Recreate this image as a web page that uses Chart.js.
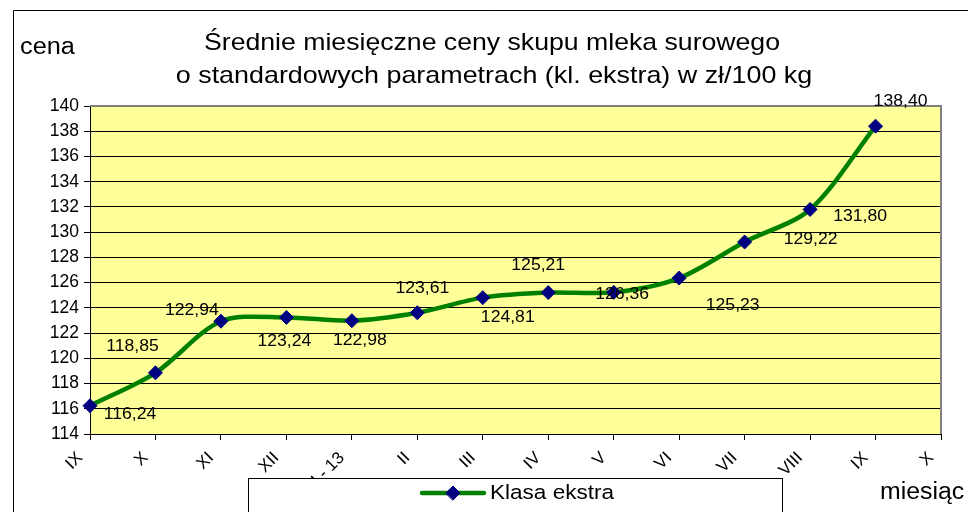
<!DOCTYPE html>
<html><head><meta charset="utf-8">
<script src="https://cdn.jsdelivr.net/npm/chart.js@4/dist/chart.umd.min.js"></script>
<style>html,body{margin:0;padding:0;background:#fff;}canvas{display:block;}</style>
</head><body>
<canvas id="c" width="968" height="512"></canvas>
<script>
const titleLines = ['Średnie miesięczne ceny skupu mleka surowego', 'o standardowych parametrach (kl. ekstra) w zł/100 kg'];
const categories = ['IX','X','XI','XII','I - 13','II','III','IV','V','VI','VII','VIII','IX','X'];
const prices = [116.24, 118.85, 122.94, 123.24, 122.98, 123.61, 124.81, 125.21, 125.23, 126.36, 129.22, 131.80, 138.40, null];
const seriesName = 'Klasa ekstra';
const yAxisTitle = 'cena';
const xAxisTitle = 'miesiąc';
const yMin = 114, yMax = 140, yStep = 2;
// label placement offsets (px) relative to each point
const labelOffsets = [[40,9],[-23,-26],[-29,-11],[-2,24],[8,20],[5,-24],[25,20],[-10,-27],[119,13],[-57,17],[66,-2],[50,7],[25,-25]];

const FONT = '"Liberation Sans", Arial, sans-serif';
const GREEN = '#008000', NAVY = '#000080', YELLOW = '#FFFF99';

function drawText(ctx, text, x, y, size, align, sx) {
  ctx.save();
  ctx.font = size + 'px ' + FONT;
  ctx.fillStyle = '#000';
  ctx.textBaseline = 'middle';
  ctx.textAlign = align;
  ctx.translate(x, y);
  ctx.scale(sx, 1);
  ctx.fillText(text, 0, 0);
  ctx.restore();
}
function diamond(ctx, x, y, r) {
  ctx.beginPath();
  ctx.moveTo(x - r, y); ctx.lineTo(x, y - r); ctx.lineTo(x + r, y); ctx.lineTo(x, y + r);
  ctx.closePath();
  ctx.fillStyle = NAVY; ctx.fill();
  ctx.strokeStyle = NAVY; ctx.lineWidth = 1; ctx.stroke();
}

const decor = {
  id: 'decor',
  beforeDraw(chart) {
    const {ctx, chartArea: a} = chart;
    ctx.save();
    ctx.fillStyle = '#fff';
    ctx.fillRect(0, 0, chart.width, chart.height);
    ctx.strokeStyle = '#000'; ctx.lineWidth = 1;
    ctx.beginPath();
    ctx.moveTo(968, 10.5); ctx.lineTo(13.5, 10.5); ctx.lineTo(13.5, 512);
    ctx.stroke();
    ctx.fillStyle = YELLOW;
    ctx.fillRect(a.left, a.top, a.right - a.left, a.bottom - a.top);
    ctx.restore();
  },
  beforeDatasetsDraw(chart) {
    const {ctx, chartArea: a} = chart;
    ctx.save();
    ctx.strokeStyle = '#808080'; ctx.lineWidth = 2;
    ctx.beginPath();
    ctx.moveTo(a.left, a.top); ctx.lineTo(a.right, a.top); ctx.lineTo(a.right, a.bottom);
    ctx.stroke();
    ctx.restore();
  },
  afterDraw(chart) {
    const ctx = chart.ctx;
    drawText(ctx, titleLines[0], 492, 43, 24, 'center', 1.11);
    drawText(ctx, titleLines[1], 494, 76, 24, 'center', 1.12);
    drawText(ctx, yAxisTitle, 20, 48, 23, 'left', 1.1);
    drawText(ctx, xAxisTitle, 880, 493, 23, 'left', 1.08);
    const meta = chart.getDatasetMeta(0);
    meta.data.forEach((pt, i) => {
      const v = prices[i];
      if (v == null || !labelOffsets[i]) return;
      drawText(ctx, v.toFixed(2).replace('.', ','), pt.x + labelOffsets[i][0], pt.y + labelOffsets[i][1], 16, 'center', 1.1);
    });
    ctx.save();
    ctx.fillStyle = '#fff';
    ctx.fillRect(248, 478, 534, 34);
    ctx.strokeStyle = '#000'; ctx.lineWidth = 1;
    ctx.strokeRect(248.5, 478.5, 534, 34);
    ctx.strokeStyle = GREEN; ctx.lineWidth = 4.5; ctx.lineCap = 'round';
    ctx.beginPath(); ctx.moveTo(422, 493); ctx.lineTo(484, 493); ctx.stroke();
    diamond(ctx, 453, 493, 7);
    ctx.restore();
    drawText(ctx, seriesName, 490, 493, 20.5, 'left', 1.1);
  }
};

new Chart(document.getElementById('c'), {
  type: 'line',
  data: {
    labels: categories,
    datasets: [{
      label: seriesName,
      data: prices,
      borderColor: GREEN,
      borderWidth: 4.5,
      tension: 0.3,
      pointStyle: 'rectRot',
      pointRadius: 7,
      pointBackgroundColor: NAVY,
      pointBorderColor: NAVY,
      pointBorderWidth: 1,
      clip: false
    }]
  },
  options: {
    responsive: false,
    devicePixelRatio: 1,
    animation: false,
    layout: { padding: { top: 106, right: 27, left: 0, bottom: 0 } },
    plugins: { legend: { display: false }, title: { display: false }, tooltip: { enabled: false } },
    scales: {
      x: {
        ticks: { autoSkip: false, minRotation: 45, maxRotation: 45, color: '#000', font: { family: FONT, size: 17 }, labelOffset: -10, padding: 8 },
        grid: { drawOnChartArea: false, drawTicks: true, tickLength: 6, color: '#000' },
        border: { color: '#000', width: 1 },
        afterFit(s) { s.height = 78; }
      },
      y: {
        min: yMin, max: yMax,
        ticks: { stepSize: yStep, color: '#000', font: { family: FONT, size: 17.5 }, padding: 5 },
        grid: { color: c => (c.tick && c.tick.value === yMax) ? 'rgba(0,0,0,0)' : '#000', tickColor: '#000', tickLength: 6, lineWidth: 1 },
        border: { color: '#000', width: 1 },
        afterFit(s) { s.width = 90; }
      }
    }
  },
  plugins: [decor]
});
</script>
</body></html>
